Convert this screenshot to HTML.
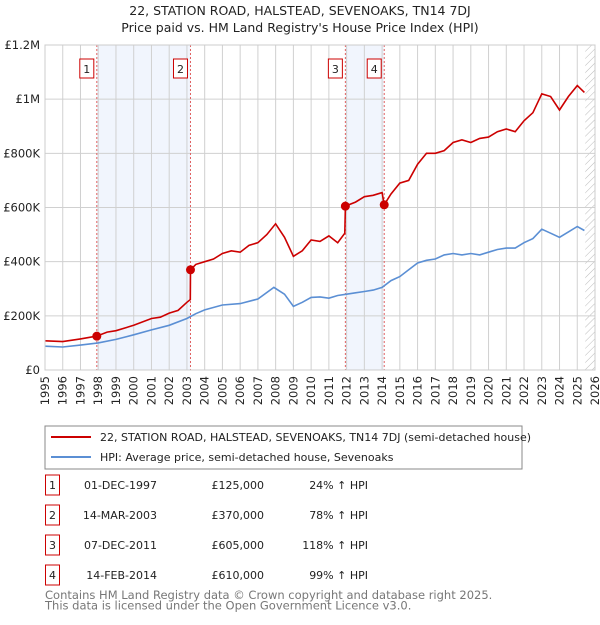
<!DOCTYPE html>
<html><head><meta charset="utf-8"><style>
body{margin:0;background:#fff;font-family:"Liberation Sans","DejaVu Sans",sans-serif;}
svg text{font-family:"DejaVu Sans","Liberation Sans",sans-serif;}
</style></head><body>
<svg id="chart" width="600" height="620">
<defs><pattern id="hatch" width="5" height="5" patternUnits="userSpaceOnUse" patternTransform="rotate(45)"><line x1="0" y1="0" x2="0" y2="5" stroke="#bbb" stroke-width="1"/></pattern></defs>
<text x="300" y="15" text-anchor="middle" font-size="12.5" fill="#222">22, STATION ROAD, HALSTEAD, SEVENOAKS, TN14 7DJ</text>
<text x="300" y="32" text-anchor="middle" font-size="12.5" fill="#222">Price paid vs. HM Land Registry's House Price Index (HPI)</text>
<g id="plot"></g>
<rect x="45" y="426" width="477" height="43" fill="#fff" stroke="#888"/>
<line x1="51" y1="437" x2="91" y2="437" stroke="#cc0000" stroke-width="2"/>
<text x="100" y="441" font-size="11" fill="#222">22, STATION ROAD, HALSTEAD, SEVENOAKS, TN14 7DJ (semi-detached house)</text>
<line x1="51" y1="457" x2="91" y2="457" stroke="#5b8fd4" stroke-width="2"/>
<text x="100" y="461" font-size="11" fill="#222">HPI: Average price, semi-detached house, Sevenoaks</text>
<g id="table" font-size="11" fill="#222"></g>
<text x="45" y="599" font-size="11.5" fill="#777">Contains HM Land Registry data © Crown copyright and database right 2025.</text>
<text x="45" y="609.5" font-size="11.5" fill="#777">This data is licensed under the Open Government Licence v3.0.</text>
</svg>
<script>
const yearTicks=[1995,1996,1997,1998,1999,2000,2001,2002,2003,2004,2005,2006,2007,2008,2009,2010,2011,2012,2013,2014,2015,2016,2017,2018,2019,2020,2021,2022,2023,2024,2025,2026];
const yTicks=[0,200000,400000,600000,800000,1000000,1200000];
const yLabels=["£0","£200K","£400K","£600K","£800K","£1M","£1.2M"];
const hpiT=[1995,1996,1997,1998,1999,2000,2001,2002,2003,2003.5,2004,2005,2006,2007,2007.9,2008.5,2009,2009.5,2010,2010.5,2011,2011.5,2012,2012.5,2013,2013.5,2014,2014.5,2015,2015.5,2016,2016.5,2017,2017.5,2018,2018.5,2019,2019.5,2020,2020.5,2021,2021.5,2022,2022.5,2023,2023.5,2024,2024.5,2025,2025.4];
const hpiV=[88,85,92,100,113,130,148,165,190,208,222,240,245,262,305,280,235,250,268,270,265,275,280,285,290,295,305,330,345,370,395,405,410,425,430,425,430,425,435,445,450,450,470,485,520,505,490,510,530,515];
const redT=[1995,1996,1997,1997.92,1998.5,1999,2000,2001,2001.5,2002,2002.5,2003,2003.19,2003.2,2003.5,2004,2004.5,2005,2005.5,2006,2006.5,2007,2007.5,2008,2008.5,2009,2009.5,2010,2010.5,2011,2011.5,2011.9,2011.93,2012.5,2013,2013.5,2014,2014.12,2014.5,2015,2015.5,2016,2016.5,2017,2017.5,2018,2018.5,2019,2019.5,2020,2020.5,2021,2021.5,2022,2022.5,2023,2023.5,2024,2024.5,2025,2025.4];
const redV=[108,105,115,125,140,145,165,190,195,210,220,250,260,370,390,400,410,430,440,435,460,470,500,540,490,420,440,480,475,495,470,505,605,620,640,645,655,610,650,690,700,760,800,800,810,840,850,840,855,860,880,890,880,920,950,1020,1010,960,1010,1050,1025];
const saleT=[1997.92,2003.2,2011.93,2014.12];
const saleV=[125000,370000,605000,610000];
const saleLabels=["1","2","3","4"];
const saleDates=["01-DEC-1997","14-MAR-2003","07-DEC-2011","14-FEB-2014"];
const salePrices=["£125,000","£370,000","£605,000","£610,000"];
const saleHpi=["24% ↑ HPI","78% ↑ HPI","118% ↑ HPI","99% ↑ HPI"];

const X0=45,X1=595,Y0=370,Y1=45;
const xs=t=>X0+(t-1995)/(2026-1995)*(X1-X0);
const ys=v=>Y0-v/1200000*(Y0-Y1);
const NS="http://www.w3.org/2000/svg";
const g=document.getElementById('plot');
function mk(tag,attrs,parent){const e=document.createElementNS(NS,tag);for(const k in attrs)e.setAttribute(k,attrs[k]);(parent||g).appendChild(e);return e;}
for(const [a,b] of [[0,1],[2,3]]){
 const r=mk('rect',{x:xs(saleT[a]),y:Y1,width:xs(saleT[b])-xs(saleT[a]),height:Y0-Y1,fill:'#eef3fc',opacity:0.8});
 
 
}
const h=mk('rect',{x:xs(2025.45),y:Y1,width:X1-xs(2025.45),height:Y0-Y1,fill:'url(#hatch)'});


yearTicks.forEach((yr,i)=>{
 const x=xs(yr);
 const l=mk('line',{x1:x,y1:Y1,x2:x,y2:Y0,stroke:'#d0d0d0','stroke-width':1});
 
 
 const t=mk('text',{x:0,y:0,transform:`translate(${x+4},${Y0+6}) rotate(-90)`,'text-anchor':'end','font-size':11.5,fill:'#222'});
 t.textContent=yr;
 
 
});
yTicks.forEach((v,i)=>{
 const y=ys(v);
 const l=mk('line',{x1:X0,y1:y,x2:X1,y2:y,stroke:'#d0d0d0','stroke-width':1});
 
 
 const t=mk('text',{x:X0-5,y:y+4,'text-anchor':'end','font-size':11.5,fill:'#222'});
 t.textContent=yLabels[i];
 
 
});
saleT.forEach((t,i)=>{
 const x=xs(t);
 const l=mk('line',{x1:x,y1:Y1,x2:x,y2:Y0,stroke:'#e06060','stroke-width':1,'stroke-dasharray':'2,2'});
 
 
 const b=mk('rect',{x:x-17,y:59,width:14,height:19,fill:'#fff',stroke:'#cc0000','stroke-width':1});
 
 
 const tx=mk('text',{x:x-10,y:73,'text-anchor':'middle','font-size':11,fill:'#222'});
 tx.textContent=saleLabels[i];
 
 
});
const hp=mk('path',{d:hpiT.map((t,i)=>(i?'L':'M')+xs(t).toFixed(1)+','+ys(hpiV[i]*1000).toFixed(1)).join(''),fill:'none',stroke:'#5b8fd4','stroke-width':1.6});


const rp=mk('path',{d:redT.map((t,i)=>(i?'L':'M')+xs(t).toFixed(1)+','+ys(redV[i]*1000).toFixed(1)).join(''),fill:'none',stroke:'#cc0000','stroke-width':1.6});


saleT.forEach((t,i)=>{
 const c=mk('circle',{cx:xs(t),cy:ys(saleV[i]),r:4.5,fill:'#cc0000'});
 
 
});
const bd=mk('rect',{x:X0,y:Y1,width:X1-X0,height:Y0-Y1,fill:'none',stroke:'#ccc'});


const tb=document.getElementById('table');
saleLabels.forEach((s,i)=>{
 const y=487+i*30;
 const b=mk('rect',{x:45.5,y:y-12,width:14,height:20,fill:'#fff',stroke:'#cc0000'},tb);
 
 
 const vals=[[s,52.5,'middle'],[saleDates[i],157,'end'],[salePrices[i],264,'end'],[saleHpi[i],368,'end']];
 vals.forEach(([txt,x,a])=>{
  const t=mk('text',{x:x,y:y+2,'text-anchor':a},tb);
  t.textContent=txt;
  
  
 });
});
</script>
</body></html>
